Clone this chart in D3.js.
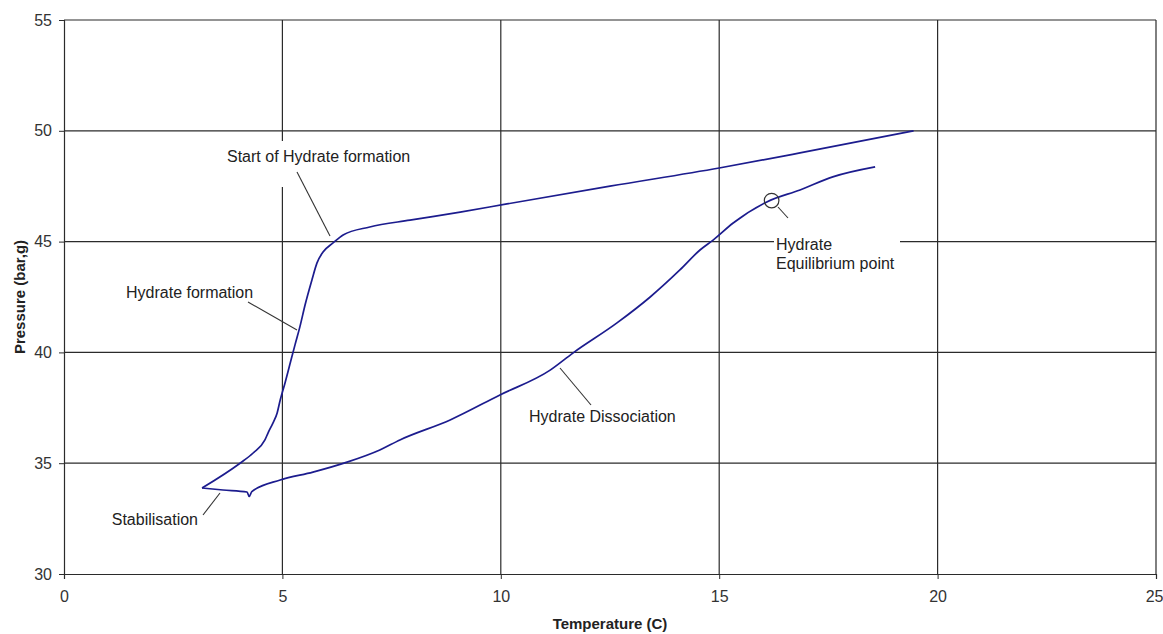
<!DOCTYPE html>
<html>
<head>
<meta charset="utf-8">
<script src="https://cdn.jsdelivr.net/npm/d3@7"></script>
<style>
  body { margin: 0; background: #fff; }
  text { font-family: Arial, "Liberation Sans", sans-serif; }
</style>
</head>
<body>
<svg id="chart" width="1163" height="634"></svg>
<script>
// cooling / formation branch (temperature C, pressure bar,g)
var formationT = [3.16, 4.03, 4.33, 4.6, 4.67, 4.78, 4.88, 4.95, 5.06, 5.17, 5.29, 5.40, 5.52, 5.68, 5.79, 5.93, 6.16, 6.39, 7.0, 7.92, 9.07, 10.14, 12.5, 15.0, 16.85, 19.45];
var formationP = [33.88, 35.0, 35.46, 36.05, 36.36, 36.8, 37.27, 37.85, 38.62, 39.45, 40.35, 41.15, 42.15, 43.3, 44.03, 44.53, 44.94, 45.3, 45.66, 45.97, 46.33, 46.7, 47.5, 48.32, 49.0, 50.0];

// heating / dissociation branch
var dissocT = [3.16, 3.64, 4.19, 4.24, 4.3, 4.95, 5.70, 6.48, 7.23, 7.69, 8.84, 9.98, 11.13, 11.65, 12.66, 13.42, 14.1, 14.56, 14.86, 15.32, 16.09, 16.85, 17.6, 18.57];
var dissocP = [33.88, 33.79, 33.7, 33.5, 33.72, 34.24, 34.6, 35.05, 35.6, 36.05, 36.95, 38.08, 39.2, 39.97, 41.33, 42.5, 43.72, 44.62, 45.07, 45.84, 46.79, 47.33, 47.92, 48.37];

var xTicks = [0, 5, 10, 15, 20, 25];
var yTicks = [30, 35, 40, 45, 50, 55];

var equilibrium = {t: 16.2, p: 46.85};

var margin = {left: 64, right: 7, top: 20, bottom: 60},
    width = 1163, height = 634;

var svg = d3.select('#chart');

var x = d3.scaleLinear().domain([0, 25]).range([margin.left, width - margin.right]);
var y = d3.scaleLinear().domain([30, 55]).range([height - margin.bottom, margin.top]);

var gridColor = '#2b2b2b';

// grid
svg.append('g')
  .selectAll('line')
  .data(xTicks.slice(1))
  .enter().append('line')
  .attr('x1', function(d) { return x(d); })
  .attr('x2', function(d) { return x(d); })
  .attr('y1', y(55)).attr('y2', y(30))
  .attr('stroke', gridColor).attr('stroke-width', 1.2);

svg.append('g')
  .selectAll('line')
  .data(yTicks.slice(1))
  .enter().append('line')
  .attr('x1', x(0)).attr('x2', x(25))
  .attr('y1', function(d) { return y(d); })
  .attr('y2', function(d) { return y(d); })
  .attr('stroke', gridColor).attr('stroke-width', 1.2);

// axes
var xAxis = svg.append('g')
  .attr('transform', 'translate(0,' + y(30) + ')')
  .call(d3.axisBottom(x).tickValues(xTicks).tickSize(5).tickPadding(12));
var yAxis = svg.append('g')
  .attr('transform', 'translate(' + x(0) + ',0)')
  .call(d3.axisLeft(y).tickValues(yTicks).tickSize(5).tickPadding(7));

[xAxis, yAxis].forEach(function(a) {
  a.select('.domain').attr('stroke', gridColor).attr('stroke-width', 1.2);
  a.selectAll('.tick line').attr('stroke', gridColor);
  a.selectAll('.tick text')
    .attr('fill', '#333')
    .style('font-size', '16px')
    .style('font-family', 'Arial, "Liberation Sans", sans-serif');
});

// last x label is clipped by the page edge in the original; keep it just inside
xAxis.selectAll('.tick text')
  .filter(function(d) { return d === 25; })
  .attr('text-anchor', 'end')
  .attr('dx', 7);

// axis titles, centred on the plot area
svg.append('text')
  .attr('x', (x(0) + x(25)) / 2).attr('y', 629)
  .attr('text-anchor', 'middle')
  .attr('font-weight', 'bold')
  .attr('font-size', 15)
  .attr('fill', '#222')
  .text('Temperature (C)');

svg.append('text')
  .attr('transform', 'translate(25,' + (y(30) + y(55)) / 2 + ') rotate(-90)')
  .attr('text-anchor', 'middle')
  .attr('font-weight', 'bold')
  .attr('font-size', 15)
  .attr('fill', '#222')
  .text('Pressure (bar,g)');

// curves
var line = d3.line()
  .x(function(d) { return x(d[0]); })
  .y(function(d) { return y(d[1]); })
  .curve(d3.curveMonotoneX);

var curves = [
  d3.zip(formationT, formationP),
  d3.zip(dissocT, dissocP)
];

svg.append('g')
  .selectAll('path')
  .data(curves)
  .enter().append('path')
  .attr('d', line)
  .attr('fill', 'none')
  .attr('stroke', '#1c1c8e')
  .attr('stroke-width', 1.7)
  .attr('stroke-linejoin', 'round');

// label backgrounds hide the grid like the original
var boxes = [
  [222, 141, 196, 46],
  [774, 228, 126, 48]
];
svg.append('g')
  .selectAll('rect')
  .data(boxes)
  .enter().append('rect')
  .attr('x', function(d) { return d[0]; })
  .attr('y', function(d) { return d[1]; })
  .attr('width', function(d) { return d[2]; })
  .attr('height', function(d) { return d[3]; })
  .attr('fill', '#fff');

// equilibrium marker
svg.append('circle')
  .attr('cx', x(equilibrium.t)).attr('cy', y(equilibrium.p))
  .attr('r', 7.3)
  .attr('fill', 'none')
  .attr('stroke', '#333')
  .attr('stroke-width', 1.2);

// annotations
var notes = [
  {lines: ['Start of Hydrate formation'], x: 227, y: 162, anchor: 'start', leader: [297, 172, 330, 236]},
  {lines: ['Hydrate formation'], x: 126, y: 298, anchor: 'start', leader: [248, 302, 297, 330]},
  {lines: ['Hydrate', 'Equilibrium point'], x: 776, y: 250, anchor: 'start', leader: [778, 207, 788, 218]},
  {lines: ['Hydrate Dissociation'], x: 529, y: 422, anchor: 'start', leader: [560, 368, 591, 405]},
  {lines: ['Stabilisation'], x: 198, y: 525, anchor: 'end', leader: [203, 515, 220, 493]}
];

var note = svg.append('g').selectAll('g')
  .data(notes)
  .enter().append('g');

note.append('line')
  .attr('x1', function(d) { return d.leader[0]; })
  .attr('y1', function(d) { return d.leader[1]; })
  .attr('x2', function(d) { return d.leader[2]; })
  .attr('y2', function(d) { return d.leader[3]; })
  .attr('stroke', '#333')
  .attr('stroke-width', 1.1);

note.each(function(d) {
  var g = d3.select(this);
  d.lines.forEach(function(s, i) {
    g.append('text')
      .attr('x', d.x)
      .attr('y', d.y + i * 19)
      .attr('text-anchor', d.anchor)
      .attr('font-size', 16)
      .attr('fill', '#222')
      .text(s);
  });
});
</script>
</body>
</html>
